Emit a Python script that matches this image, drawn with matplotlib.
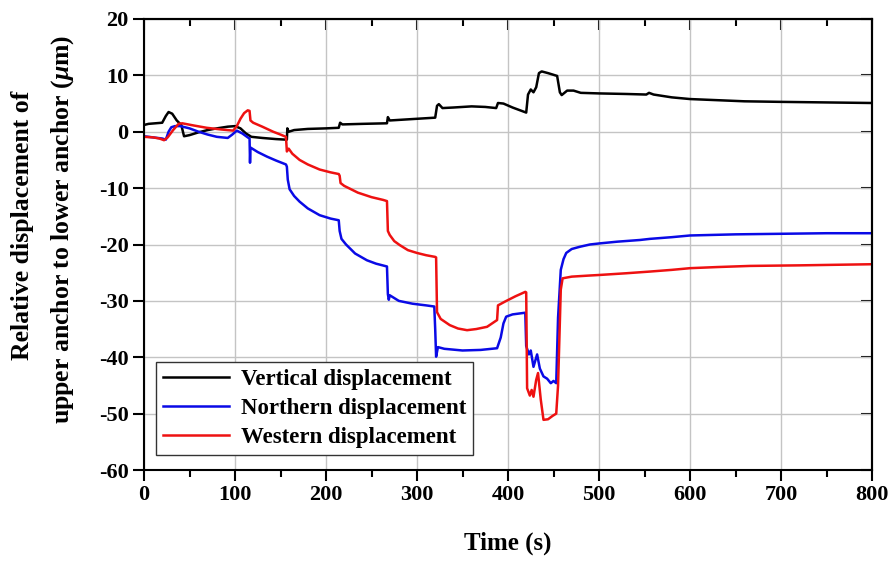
# relative displacement of upper anchor to lower anchor vs time

import matplotlib
matplotlib.use("Agg")
import matplotlib.pyplot as plt
from matplotlib.ticker import MultipleLocator

# vertical displacement (black)
t_vert = [0, 5, 20, 24, 27, 31, 36, 41, 44, 50, 60, 70, 80, 92, 100, 106, 112, 118,
          130, 145, 156, 157, 157.5, 159, 165, 180, 200, 214, 215.5, 218, 240, 267,
          268, 270, 290, 320, 322, 324, 328, 340, 360, 375, 387, 389, 395, 405, 420,
          422, 425, 428, 431, 434, 437, 444, 450, 454, 457, 459, 465, 472, 480, 500,
          530, 552, 555, 560, 580, 600, 630, 660, 700, 750, 800]
v_vert = [1.2, 1.4, 1.6, 2.8, 3.5, 3.2, 2.0, 1.2, -0.8, -0.6, -0.1, 0.3, 0.6, 0.9, 1.0,
          0.6, -0.3, -0.9, -1.1, -1.3, -1.4, -1.4, 0.6, 0.0, 0.3, 0.5, 0.6, 0.7, 1.6,
          1.3, 1.4, 1.5, 2.6, 2.0, 2.2, 2.5, 4.6, 4.9, 4.2, 4.3, 4.5, 4.4, 4.2, 5.1,
          5.0, 4.3, 3.4, 6.6, 7.5, 7.0, 7.9, 10.4, 10.7, 10.4, 10.1, 9.9, 7.0, 6.5,
          7.3, 7.3, 6.9, 6.8, 6.7, 6.6, 6.9, 6.6, 6.1, 5.8, 5.6, 5.4, 5.3, 5.2, 5.1]

# northern displacement (blue)
t_north = [0, 10, 20, 24, 27, 30, 34, 40, 50, 60, 70, 80, 92, 97, 102, 108, 114, 116,
           116.5, 117, 125, 135, 145, 156, 157, 158, 160, 165, 171, 180, 193, 205,
           214, 215, 217, 222, 232, 245, 255, 267, 268, 269, 270, 280, 295, 310, 319,
           320, 321, 323, 330, 350, 370, 388, 392, 395, 398, 405, 419, 420, 423, 425,
           428, 432, 435, 439, 443, 447, 450, 453, 455, 458, 461, 464, 470, 479, 490,
           501, 520, 545, 556, 580, 600, 650, 700, 750, 800]
v_north = [-0.8, -1.0, -1.2, -1.4, 0.0, 0.8, 1.0, 1.0, 0.6, 0.0, -0.5, -0.9, -1.1,
           -0.5, 0.2, -0.3, -1.0, -1.2, -5.5, -2.8, -3.6, -4.4, -5.1, -5.8, -6.2, -8.5,
           -10.2, -11.4, -12.4, -13.6, -14.8, -15.4, -15.7, -17.6, -19.0, -20.0, -21.6,
           -22.8, -23.4, -23.9, -28.8, -29.8, -29.0, -30.0, -30.5, -30.8, -31.0, -35.0,
           -39.9, -38.2, -38.5, -38.8, -38.7, -38.4, -36.5, -34.0, -32.8, -32.4, -32.1,
           -38.0, -39.5, -38.8, -41.7, -39.5, -42.0, -43.4, -43.8, -44.6, -44.2, -44.6,
           -33.0, -24.5, -22.6, -21.5, -20.8, -20.4, -20.0, -19.8, -19.5, -19.2, -19.0,
           -18.7, -18.4, -18.2, -18.1, -18.0, -18.0]

# western displacement (red)
t_west = [0, 10, 17, 22, 26, 32, 38, 42, 55, 69, 85, 98, 102, 106, 110, 114, 116, 117,
          120, 130, 142, 150, 156, 157, 159, 163, 171, 180, 193, 205, 214, 215, 216,
          220, 235, 250, 263, 267, 268, 270, 275, 281, 290, 300, 310, 320, 321, 322,
          326, 336, 345, 355, 365, 377, 388, 389, 397, 408, 419, 420, 421, 424, 426,
          428, 431, 433, 436, 439, 444, 449, 453, 455, 458, 460, 470, 490, 501, 530,
          556, 580, 600, 630, 666, 720, 800]
v_west = [-0.9, -1.0, -1.2, -1.5, -1.0, 0.3, 1.4, 1.5, 1.1, 0.7, 0.4, 0.2, 1.0, 2.3,
          3.3, 3.8, 3.7, 2.0, 1.6, 0.9, 0.0, -0.5, -0.9, -3.5, -3.0, -3.9, -5.0, -5.8,
          -6.7, -7.2, -7.5, -7.8, -9.1, -9.6, -10.8, -11.6, -12.1, -12.3, -17.6, -18.3,
          -19.4, -20.1, -21.0, -21.5, -21.9, -22.2, -22.3, -32.0, -33.2, -34.3, -34.9,
          -35.2, -35.0, -34.6, -33.4, -30.8, -30.1, -29.2, -28.4, -28.5, -45.5, -46.8,
          -45.8, -47.0, -44.0, -42.8, -47.5, -51.1, -51.0, -50.4, -50.0, -45.0, -28.0,
          -26.0, -25.7, -25.5, -25.4, -25.1, -24.8, -24.5, -24.2, -24.0, -23.8, -23.7,
          -23.5]

labels = ["Vertical displacement", "Northern displacement", "Western displacement"]
colors = ["#000000", "#0a0ae6", "#ee1111"]

plt.rcParams["font.family"] = "Liberation Serif"
plt.rcParams["font.weight"] = "bold"
plt.rcParams["axes.unicode_minus"] = False
plt.rcParams["mathtext.fontset"] = "custom"
plt.rcParams["mathtext.it"] = "Liberation Serif:italic:bold"
plt.rcParams["mathtext.rm"] = "Liberation Serif:bold"

fig = plt.figure(figsize=(8.93, 5.61), dpi=100)
ax = fig.add_axes([144 / 893, 1 - 470 / 561, 728 / 893, 451 / 561])

series = [(t_vert, v_vert), (t_north, v_north), (t_west, v_west)]
for (t, v), lab, c in zip(series, labels, colors):
    ax.plot(t, v, color=c, lw=1.8, label=lab)

ax.set_xlim(0, 800)
ax.set_ylim(-60, 20)
ax.xaxis.set_major_locator(MultipleLocator(100))
ax.xaxis.set_minor_locator(MultipleLocator(50))
ax.yaxis.set_major_locator(MultipleLocator(10))
ax.grid(True, which="major", color="#c4c4c4", lw=1.0)
ax.set_axisbelow(True)

for sp in ax.spines.values():
    sp.set_linewidth(1.5)

ax.tick_params(axis="both", which="major", direction="out", length=8, width=1.5,
               labelsize=16, pad=3)
ax.tick_params(axis="x", which="minor", direction="out", length=5, width=1.5)
for lab in ax.get_xticklabels() + ax.get_yticklabels():
    lab.set_fontweight("bold")

# mirrored ticks pointing inward on top and right
top = ax.secondary_xaxis("top")
top.xaxis.set_major_locator(MultipleLocator(100))
top.xaxis.set_minor_locator(MultipleLocator(50))
top.tick_params(which="major", direction="in", length=8, width=1.5, labeltop=False)
top.tick_params(which="minor", direction="in", length=5, width=1.5)
top.spines["top"].set_linewidth(1.5)
right = ax.secondary_yaxis("right")
right.yaxis.set_major_locator(MultipleLocator(10))
right.tick_params(which="major", direction="in", length=8, width=1.5, labelright=False)
right.spines["right"].set_linewidth(1.5)

fig.text(508 / 893, 1 - 543 / 561, "Time (s)", ha="center", va="center",
         fontsize=18, fontweight="bold")
fig.text(23 / 893, 1 - 225 / 561, "Relative displacement of", rotation=90,
         ha="center", va="center", fontsize=18.5, fontweight="bold")
fig.text(63 / 893, 1 - 229 / 561, r"upper anchor to lower anchor ($\mu$m)", rotation=90,
         ha="center", va="center", fontsize=18.5, fontweight="bold")

leg = ax.legend(loc="lower left", bbox_to_anchor=(12 / 728, 15 / 451), borderaxespad=0,
                fancybox=False, edgecolor="#333333", framealpha=1,
                prop={"family": "Liberation Serif", "weight": "bold", "size": 16.5},
                handlelength=2.9, handletextpad=0.5, labelspacing=0.35, borderpad=0.3)
leg.get_frame().set_linewidth(1.0)

fig.savefig("out.png", dpi=100)
